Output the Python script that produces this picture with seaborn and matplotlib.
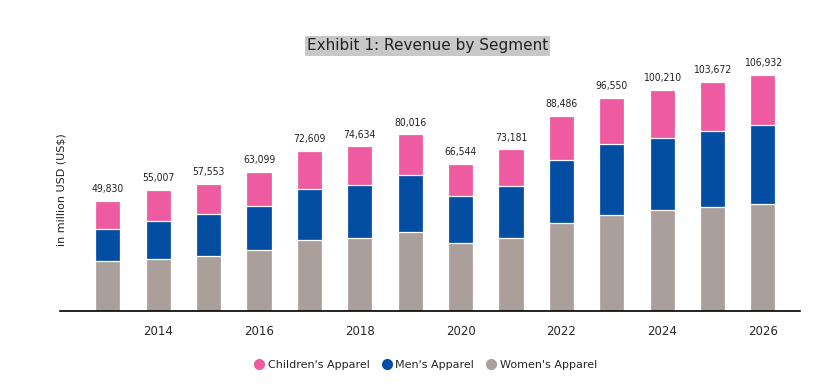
import numpy as np
import pandas as pd
import matplotlib
matplotlib.use("Agg")
import matplotlib.pyplot as plt
import seaborn as sns
from matplotlib.lines import Line2D

# data (million USD)
years = list(range(2013, 2027))
womens = [22770, 23590, 25050, 27630, 32150, 33080, 35970, 31030, 33270, 39740, 43520, 45840, 47090, 48280]
mens = [14190, 17120, 18760, 19950, 23320, 23790, 25720, 21230, 23160, 28540, 32290, 32460, 34510, 35750]
totals = [49830, 55007, 57553, 63099, 72609, 74634, 80016, 66544, 73181, 88486, 96550, 100210, 103672, 106932]
childrens = [t - w - m for t, w, m in zip(totals, womens, mens)]

colors = {"Children's Apparel": "#EE5BA0", "Men's Apparel": "#034EA2", "Women's Apparel": "#AB9F9C"}

df = pd.DataFrame({
    "year": [str(y) for y in years],
    "women": womens,
    "women_men": np.array(womens) + np.array(mens),
    "total": totals,
})

sns.set_style("white")
plt.rcParams["font.family"] = ["DejaVu Sans"]

fig = plt.figure(figsize=(8.33, 3.86), dpi=100)
ax = fig.add_axes([0.072, 0.194, 0.888, 0.687])

# stacked bars drawn as overlapping cumulative layers
for col, name in [("total", "Children's Apparel"), ("women_men", "Men's Apparel"), ("women", "Women's Apparel")]:
    sns.barplot(data=df, x="year", y=col, color=colors[name], width=0.5,
                edgecolor="white", linewidth=0.9, saturation=1, ax=ax)

for i, t in enumerate(totals):
    ax.text(i, t + 3000, f"{t:,}", ha="center", va="bottom", fontsize=7.5,
            fontstretch="condensed", family=["DejaVu Sans"], color="#222222")

ax.set_xlim(-0.95, 13.73)
ax.set_ylim(0, 120000)
ax.set_yticks([])
ax.set_xlabel("")
ax.set_ylabel("")
ax.set_xticks(range(len(years)))
ax.set_xticklabels([str(y) if y % 2 == 0 else "" for y in years], fontsize=8.5)
ax.tick_params(axis="x", length=0, pad=10)
for s in ["top", "right", "left"]:
    ax.spines[s].set_visible(False)
ax.spines["bottom"].set_color("black")
ax.spines["bottom"].set_linewidth(1.2)

fig.text(62 / 833, 1 - 190 / 386, "in million USD (US$)", rotation=90, ha="center", va="center",
         fontsize=8, color="#222222")

fig.text(0.513, 0.881, "Exhibit 1: Revenue by Segment", ha="center", va="center", fontsize=11,
         color="#222222", bbox=dict(facecolor="#C8C8C8", edgecolor="none", pad=1.5))

handles = [Line2D([], [], marker="o", linestyle="", markersize=7, color=c) for c in colors.values()]
fig.legend(handles, list(colors.keys()), loc="center", bbox_to_anchor=(0.51, 0.055), ncol=3,
           frameon=False, fontsize=8, handletextpad=0.2, columnspacing=0.9, handlelength=1.2)

fig.savefig("out.png", dpi=100)
